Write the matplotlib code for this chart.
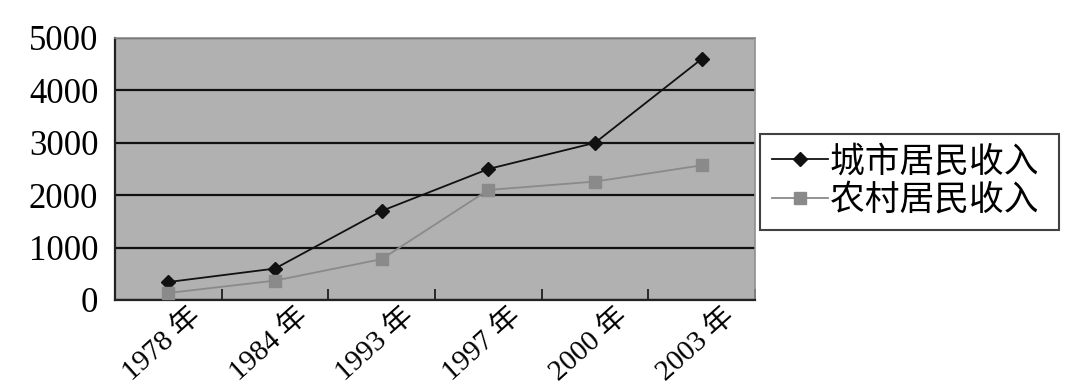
import matplotlib
matplotlib.use("Agg")
import matplotlib.pyplot as plt
import matplotlib.transforms as mtransforms
import numpy as np

years = ["1978 年", "1984 年", "1993 年", "1997 年", "2000 年", "2003 年"]
urban = [343, 600, 1700, 2500, 3000, 4600]
rural = [134, 370, 780, 2100, 2260, 2570]
yticks = [0, 1000, 2000, 3000, 4000, 5000]

plt.rcParams['font.family'] = ['Liberation Serif', 'Noto Sans CJK SC']

fig = plt.figure(figsize=(10.76, 3.92), dpi=100)
ax = fig.add_axes([115 / 1076, 1 - 300 / 392, 640 / 1076, 262 / 392])
ax.set_facecolor('#b1b1b1')

x = np.arange(len(years))
ax.plot(x, urban, color='#111111', lw=1.3, marker='D', ms=7, label='城市居民收入 ', zorder=3)
ax.plot(x, rural, color='#8a8a8a', lw=1.3, marker='s', ms=8, label='农村居民收入 ', zorder=3)

ax.set_xlim(-0.5, len(years) - 0.5)
ax.set_ylim(0, 5000)
ax.set_yticks(yticks)
ax.set_yticklabels([str(v) for v in yticks], fontsize=25)
ax.tick_params(axis='y', length=0, pad=12)
ax.grid(axis='y', color='#111111', lw=1.6)
ax.set_axisbelow(True)

# category ticks between groups
ax.set_xticks(np.arange(len(years) + 1) - 0.5, minor=True)
ax.tick_params(axis='x', which='minor', direction='in', length=8, width=1.2, color='#111111')
ax.set_xticks(x)
ax.set_xticklabels(years, fontsize=21, rotation=42, ha='right', va='top', rotation_mode='anchor')
ax.tick_params(axis='x', which='major', length=0, pad=2)
offset = mtransforms.ScaledTranslation(0.2, 0, fig.dpi_scale_trans)
for lbl in ax.get_xticklabels():
    lbl.set_transform(lbl.get_transform() + offset)

for side in ['left', 'bottom']:
    ax.spines[side].set_color('#222222')
    ax.spines[side].set_linewidth(1.6)
for side in ['top', 'right']:
    ax.spines[side].set_color('#8f8f8f')
    ax.spines[side].set_linewidth(1.2)

leg = ax.legend(loc='center left', bbox_to_anchor=(1.008, 0.45), fontsize=25,
                frameon=True, fancybox=False, handlelength=1.6, handletextpad=0.05,
                borderpad=0.35, labelspacing=0.15, borderaxespad=0)
leg.get_frame().set_edgecolor('#111111')
leg.get_frame().set_linewidth(1.5)

fig.savefig('out.png', dpi=100)
